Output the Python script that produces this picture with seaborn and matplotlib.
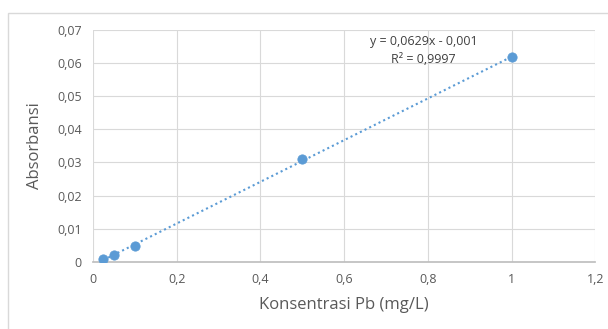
import numpy as np
import pandas as pd
import matplotlib
matplotlib.use("Agg")
import matplotlib.pyplot as plt
import seaborn as sns
from matplotlib.ticker import FuncFormatter, MultipleLocator
from matplotlib.patches import Rectangle

konsentrasi = [0.025, 0.05, 0.1, 0.5, 1.0]
absorbansi = [0.001, 0.002, 0.0047, 0.031, 0.0617]
slope = 0.0629
intercept = -0.001

df = pd.DataFrame({"x": konsentrasi, "y": absorbansi})

sns.set_theme(style="whitegrid")
plt.rcParams['font.family'] = ['Open Sans', 'DejaVu Sans']

fig = plt.figure(figsize=(6.08, 3.29), dpi=100)
ax = fig.add_axes([0.153, 0.204, 0.826, 0.705])

# outer chart frame
fig.patches.append(Rectangle((8 / 608, -0.1), 1.2, 1.1 - 13 / 329, transform=fig.transFigure,
                             fill=False, edgecolor="#d9d9d9", linewidth=1.0))

# trendline
xs = np.array([min(konsentrasi), max(konsentrasi)])
ax.plot(xs, slope * xs + intercept, linestyle=(0, (1, 1.5)), color="#5b9bd5", linewidth=1.5, zorder=2)

sns.scatterplot(data=df, x="x", y="y", ax=ax, color="#5b9bd5", s=45, edgecolor="#5b9bd5", zorder=3)

ax.set_xlim(0, 1.2)
ax.set_ylim(0, 0.07)
ax.xaxis.set_major_locator(MultipleLocator(0.2))
ax.yaxis.set_major_locator(MultipleLocator(0.01))


def comma(v, pos):
    s = f"{v:.2f}".rstrip("0").rstrip(".")
    return s.replace(".", ",")


ax.xaxis.set_major_formatter(FuncFormatter(comma))
ax.yaxis.set_major_formatter(FuncFormatter(comma))

ax.grid(True, color="#d9d9d9", linewidth=0.8)
for side in ["top", "right", "left"]:
    ax.spines[side].set_visible(False)
ax.spines["bottom"].set_color("#bfbfbf")
ax.set_facecolor("white")
ax.tick_params(axis="both", labelsize=9, colors="#595959", length=0, pad=8)

ax.set_xlabel("Konsentrasi Pb (mg/L)", fontsize=12, color="#595959", labelpad=8)
ax.set_ylabel("Absorbansi", fontsize=12, color="#595959", labelpad=10)

ax.text(0.79, 0.0665, "y = 0,0629x - 0,001", ha="center", va="center", fontsize=9, color="#404040")
ax.text(0.79, 0.0610, "R² = 0,9997", ha="center", va="center", fontsize=9, color="#404040")

fig.savefig("out.png", dpi=100)
